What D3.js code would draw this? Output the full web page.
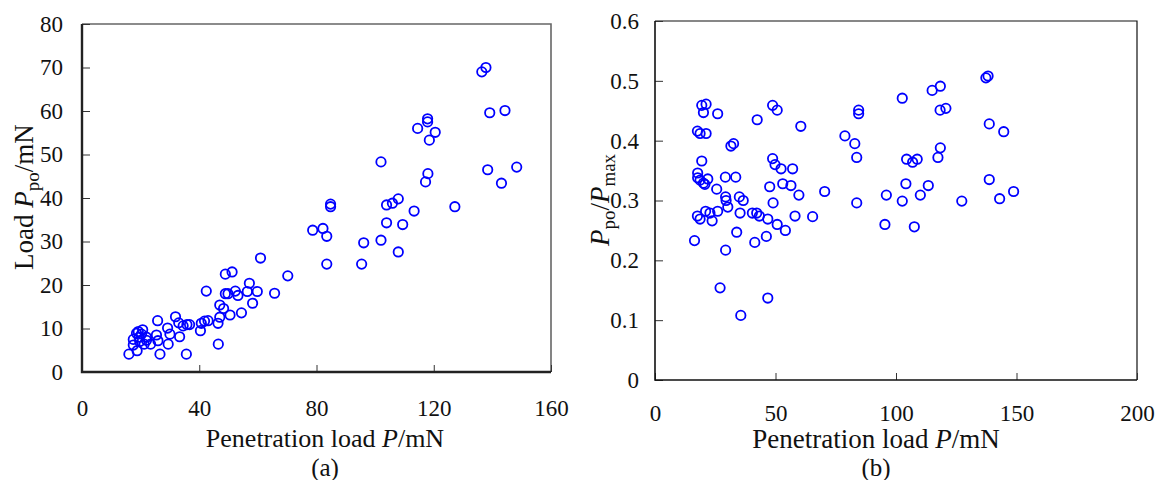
<!DOCTYPE html>
<html>
<head>
<meta charset="utf-8">
<script src="https://cdnjs.cloudflare.com/ajax/libs/d3/7.8.5/d3.min.js"></script>
<style>
  body { margin: 0; background: #fff; }
  text { font-family: "Liberation Serif", "Times New Roman", serif; fill: #111; }
</style>
</head>
<body>
<div id="chart"></div>
<script>
// (a) penetration load P (mN) vs pop-out load Ppo (mN)
const loadP = [16.0, 18.8, 17.5, 17.5, 18.6, 19.2, 20.7, 20.3, 22.0, 21.2, 23.4, 19.7, 19.5, 22.0,
  25.8, 25.4, 25.9, 26.6, 29.2, 30.0, 29.4, 31.9, 33.0, 33.3, 34.5, 35.8, 36.7, 35.6,
  40.4, 40.7, 41.8, 43.0, 42.4, 46.4, 46.5, 47.0, 47.0, 48.3, 48.9, 51.2, 48.9, 49.8, 50.5, 52.3, 53.2, 54.4, 56.4, 57.1, 58.2, 59.8, 60.9, 65.7, 70.2,
  78.7, 82.2, 83.5, 83.5, 84.8, 84.8, 95.4, 96.1, 102.0, 102.0, 103.9, 103.9, 105.9, 107.9, 107.9, 109.4, 113.3, 114.5, 117.2, 118.0, 117.9, 117.9, 118.5, 120.5, 127.2,
  136.4, 137.8, 138.4, 139.1, 143.1, 144.3, 148.3];
const loadPpo = [4.1, 4.9, 6.2, 7.5, 8.9, 9.3, 9.7, 8.7, 8.0, 6.4, 6.4, 7.0, 8.0, 7.3,
  11.8, 8.5, 7.2, 4.1, 10.1, 8.7, 6.4, 12.7, 11.3, 8.1, 10.6, 10.9, 10.9, 4.1,
  9.5, 11.2, 11.7, 11.8, 18.6, 11.2, 6.4, 12.6, 15.4, 14.6, 22.5, 23.0, 18.0, 18.0, 13.1, 18.6, 17.6, 13.6, 18.5, 20.4, 15.8, 18.5, 26.2, 18.1, 22.1,
  32.6, 33.0, 31.2, 24.8, 38.6, 38.0, 24.8, 29.7, 30.3, 48.3, 34.3, 38.4, 38.8, 39.8, 27.6, 33.9, 37.0, 56.0, 43.7, 45.6, 58.2, 57.5, 53.3, 55.1, 38.0,
  69.0, 70.0, 46.5, 59.6, 43.4, 60.1, 47.1];

// (b) penetration load P (mN) vs ratio Ppo/Pmax
const ratioP = [19.4, 21.2, 20.1, 26.0, 42.4, 48.8, 50.7, 60.5,
  17.6, 18.7, 21.2, 31.5, 32.6,
  19.4, 17.7, 17.7, 18.7, 20.1, 21.9, 20.7, 25.6, 29.2, 33.5, 29.3, 35.0, 36.6, 29.5,
  48.8, 49.8, 52.3, 57.1, 47.6, 53.0, 56.4, 59.7, 49.0,
  17.6, 18.7, 21.0, 22.8, 23.7, 26.0, 30.2, 35.3, 40.4, 42.2, 43.3, 46.8, 50.7, 54.1, 58.1,
  16.4, 33.9, 41.4, 46.2, 29.3, 27.0, 46.8, 35.6,
  78.8, 82.9, 83.7, 84.5, 84.5, 102.6, 115.0, 118.4, 118.3, 120.7, 137.3, 138.2, 138.7, 144.7, 118.4, 117.4, 104.4, 106.9, 108.8,
  70.4, 83.7, 96.0, 102.6, 104.1, 110.1, 113.4, 127.3, 138.7, 143.0, 148.8, 65.4, 95.4, 107.6];
const ratioVal = [0.459, 0.461, 0.447, 0.445, 0.435, 0.459, 0.451, 0.424,
  0.416, 0.412, 0.412, 0.391, 0.395,
  0.366, 0.346, 0.338, 0.334, 0.329, 0.336, 0.327, 0.319, 0.339, 0.339, 0.306, 0.306, 0.300, 0.300,
  0.370, 0.360, 0.353, 0.353, 0.323, 0.328, 0.325, 0.309, 0.296,
  0.274, 0.269, 0.282, 0.279, 0.266, 0.282, 0.289, 0.279, 0.279, 0.279, 0.274, 0.269, 0.260, 0.250, 0.274,
  0.233, 0.247, 0.230, 0.240, 0.217, 0.154, 0.137, 0.108,
  0.408, 0.395, 0.372, 0.451, 0.445, 0.471, 0.484, 0.491, 0.451, 0.454, 0.505, 0.508, 0.428, 0.415, 0.388, 0.372, 0.369, 0.364, 0.369,
  0.315, 0.296, 0.309, 0.299, 0.328, 0.309, 0.325, 0.299, 0.335, 0.303, 0.315, 0.273, 0.260, 0.256];

const xTicksA = [0, 40, 80, 120, 160];
const yTicksA = [0, 10, 20, 30, 40, 50, 60, 70, 80];
const xTicksB = [0, 50, 100, 150, 200];
const yTicksB = [0, 0.1, 0.2, 0.3, 0.4, 0.5, 0.6];

const svg = d3.select("#chart").append("svg")
  .attr("width", 1157)
  .attr("height", 480);

function panel(opt) {
  const g = svg.append("g").attr("transform", "translate(" + opt.left + "," + opt.top + ")");
  const x = d3.scaleLinear().domain(opt.xDomain).range([0, opt.w]);
  const y = d3.scaleLinear().domain(opt.yDomain).range([opt.h, 0]);

  // frame: top/right
  g.append("path")
    .attr("d", "M0,0H" + opt.w + "V" + opt.h)
    .attr("fill", "none")
    .attr("stroke", opt.frameColor)
    .attr("stroke-width", opt.frameWidth);

  const xAxis = g.append("g")
    .attr("transform", "translate(0," + opt.h + ")")
    .call(d3.axisBottom(x).tickValues(opt.xTicks).tickSize(-7).tickPadding(opt.xPad).tickFormat(d3.format("")));
  const yAxis = g.append("g")
    .call(d3.axisLeft(y).tickValues(opt.yTicks).tickSize(-8).tickPadding(opt.yPad).tickFormat(opt.yFormat));

  [xAxis, yAxis].forEach(function(a) {
    a.select(".domain").remove();
    a.selectAll("line").attr("stroke", "#333").attr("stroke-width", 1);
    a.selectAll("text").style("font-size", opt.fs + "px").style("fill", "#111")
      .style("font-family", "Liberation Serif, serif");
  });

  // axis lines: left/bottom
  g.append("path")
    .attr("d", "M0,0V" + opt.h + "H" + opt.w)
    .attr("fill", "none")
    .attr("stroke", opt.axisColor)
    .attr("stroke-width", opt.axisWidth);

  g.selectAll("circle.pt")
    .data(d3.range(opt.xs.length))
    .enter().append("circle")
    .attr("class", "pt")
    .attr("cx", function(i) { return x(opt.xs[i]); })
    .attr("cy", function(i) { return y(opt.ys[i]); })
    .attr("r", 4.7)
    .attr("fill", "none")
    .attr("stroke", "#0000ff")
    .attr("stroke-width", 1.8);

  return g;
}

const gA = panel({
  left: 82, top: 24, w: 469, h: 348,
  xDomain: [0, 160], yDomain: [0, 80],
  xTicks: xTicksA, yTicks: yTicksA,
  xPad: 28, yPad: 19, fs: 23,
  yFormat: d3.format(""),
  frameColor: "#666", frameWidth: 1.6,
  axisColor: "#222", axisWidth: 2.4,
  xs: loadP, ys: loadPpo
});

const gB = panel({
  left: 655, top: 21, w: 482, h: 359,
  xDomain: [0, 200], yDomain: [0, 0.6],
  xTicks: xTicksB, yTicks: yTicksB,
  xPad: 25, yPad: 16, fs: 23,
  yFormat: function(d) { return d === 0 ? "0" : d3.format(".1f")(d); },
  frameColor: "#111", frameWidth: 1.2,
  axisColor: "#111", axisWidth: 1.6,
  xs: ratioP, ys: ratioVal
});

// x titles
function xTitle(cx, yy, fs) {
  const t = svg.append("text")
    .attr("x", cx).attr("y", yy)
    .attr("text-anchor", "middle")
    .style("font-size", fs + "px");
  t.append("tspan").text("Penetration load ");
  t.append("tspan").style("font-style", "italic").text("P");
  t.append("tspan").text("/mN");
}
xTitle(325, 447, 26);
xTitle(876, 448, 27);

svg.append("text").attr("x", 325).attr("y", 476).attr("text-anchor", "middle")
  .style("font-size", "25px").text("(a)");
svg.append("text").attr("x", 876).attr("y", 476).attr("text-anchor", "middle")
  .style("font-size", "25px").text("(b)");

// y titles
const yA = svg.append("text")
  .attr("transform", "translate(33,197) rotate(-90)")
  .attr("text-anchor", "middle")
  .style("font-size", "27px");
yA.append("tspan").text("Load ");
yA.append("tspan").style("font-style", "italic").text("P");
yA.append("tspan").attr("dy", 6).style("font-size", "19px").text("po");
yA.append("tspan").attr("dy", -6).text("/mN");

const yB = svg.append("text")
  .attr("transform", "translate(609,200) rotate(-90)")
  .attr("text-anchor", "middle")
  .style("font-size", "27px");
yB.append("tspan").style("font-style", "italic").text("P");
yB.append("tspan").attr("dy", 6).style("font-size", "19px").text("po");
yB.append("tspan").attr("dy", -6).text("/");
yB.append("tspan").style("font-style", "italic").text("P");
yB.append("tspan").attr("dy", 6).style("font-size", "19px").text("max");
</script>
</body>
</html>
